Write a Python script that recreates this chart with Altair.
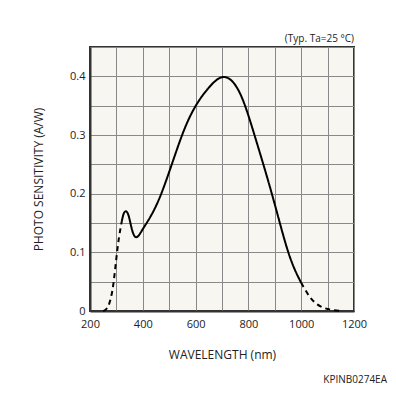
import altair as alt
import pandas as pd

# Data
dash_left_wl = [250, 260, 270, 280, 290, 300, 310, 320]
dash_left_val = [0, 0.002, 0.008, 0.022, 0.048, 0.092, 0.128, 0.152]

solid_wl = [320, 325, 330, 337, 345, 352, 360, 368, 375, 385, 400, 425, 450, 475, 500,
            525, 550, 575, 600, 625, 650, 675, 700, 725, 750, 775, 800, 825, 850, 875,
            900, 925, 950, 975, 1000]
solid_val = [0.152, 0.163, 0.169, 0.171, 0.166, 0.152, 0.136, 0.127, 0.125, 0.128, 0.14,
             0.157, 0.178, 0.205, 0.237, 0.27, 0.302, 0.329, 0.35, 0.367, 0.381, 0.393,
             0.4, 0.398, 0.387, 0.366, 0.334, 0.297, 0.26, 0.222, 0.182, 0.14, 0.1,
             0.07, 0.048]

dash_right_wl = [1000, 1025, 1050, 1075, 1100, 1125, 1150]
dash_right_val = [0.048, 0.028, 0.014, 0.007, 0.003, 0.001, 0]

x_ticks = list(range(200, 1201, 100))
y_ticks = [0, 0.05, 0.1, 0.15, 0.2, 0.25, 0.3, 0.35, 0.4, 0.45]

rows = []
for w, v in zip(dash_left_wl, dash_left_val):
    rows.append({"wl": w, "val": v, "seg": "a", "style": "dashed"})
for w, v in zip(solid_wl, solid_val):
    rows.append({"wl": w, "val": v, "seg": "b", "style": "solid"})
for w, v in zip(dash_right_wl, dash_right_val):
    rows.append({"wl": w, "val": v, "seg": "c", "style": "dashed"})
df = pd.DataFrame(rows)

FONT = "Open Sans"

x = alt.X("wl:Q", scale=alt.Scale(domain=[200, 1200], nice=False),
          axis=alt.Axis(values=x_ticks, title="WAVELENGTH (nm)",
                        labelExpr="datum.value % 200 == 0 ? datum.label : ''",
                        format="d", ticks=False, labelPadding=7, titlePadding=20,
                        labelFlush=False,
                        labelFont=FONT, titleFont=FONT, labelFontSize=11,
                        titleFontSize=12, titleFontWeight="normal",
                        labelColor="#222", titleColor="#222",
                        gridColor="#888", gridWidth=1, gridOpacity=1,
                        domainColor="#333", domainWidth=2))
y = alt.Y("val:Q", scale=alt.Scale(domain=[0, 0.45], nice=False),
          axis=alt.Axis(values=y_ticks, title="PHOTO SENSITIVITY (A/W)",
                        labelExpr="round(datum.value*20) % 2 == 0 && datum.value < 0.44 ? format(datum.value, '.1~f') : ''",
                        ticks=False, labelPadding=5, titlePadding=24,
                        labelFlush=False,
                        labelFont=FONT, titleFont=FONT, labelFontSize=11,
                        titleFontSize=12, titleFontWeight="normal",
                        labelColor="#222", titleColor="#222",
                        gridColor="#888", gridWidth=1, gridOpacity=1,
                        domainColor="#333", domainWidth=2))

lines = alt.Chart(df).mark_line(color="black", strokeWidth=2, interpolate="basis").encode(
    x=x, y=y,
    detail="seg:N",
    strokeDash=alt.StrokeDash("style:N",
                              scale=alt.Scale(domain=["solid", "dashed"], range=[[1, 0], [5, 4]]),
                              legend=None),
)

note = alt.Chart(pd.DataFrame({"t": ["(Typ. Ta=25 °C)"]})).mark_text(
    align="right", baseline="bottom", font=FONT, fontSize=10, color="#222"
).encode(x=alt.value(264), y=alt.value(-3), text="t:N")

code = alt.Chart(pd.DataFrame({"t": ["KPINB0274EA"]})).mark_text(
    align="right", baseline="middle", font=FONT, fontSize=10, color="#222"
).encode(x=alt.value(297), y=alt.value(333), text="t:N")

chart = alt.layer(lines, note, code).properties(
    width=264, height=264,
    autosize=alt.AutoSizeParams(type="none"),
    padding={"left": 82, "top": 39, "right": 34, "bottom": 77},
    background="white",
).configure_view(fill="#f7f6f0", stroke="#333", strokeWidth=2)

chart.save("out.html", embed_options={"renderer": "svg", "actions": False})
